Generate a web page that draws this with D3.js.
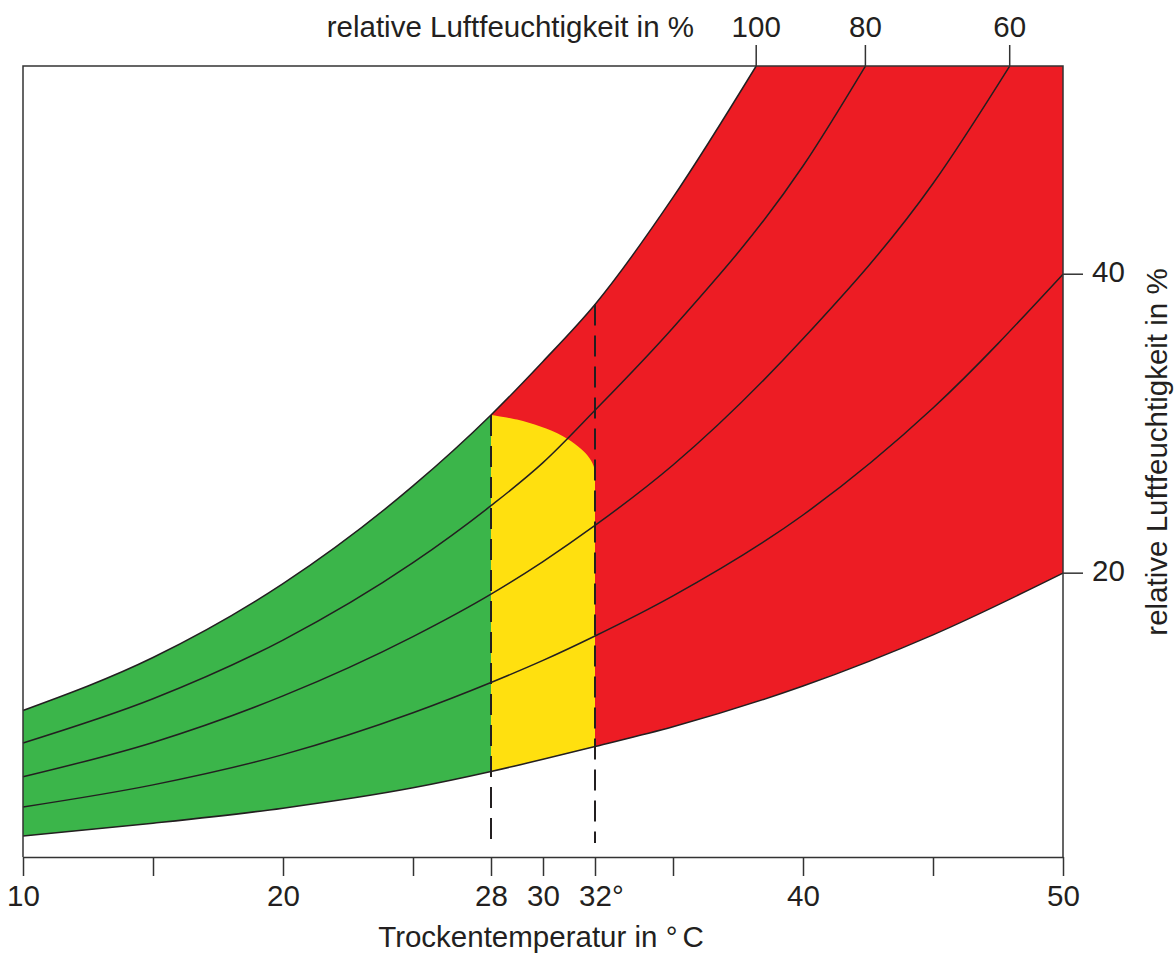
<!DOCTYPE html>
<html lang="de">
<head>
<meta charset="UTF-8">
<title>Behaglichkeitsfeld</title>
<script src="https://cdn.jsdelivr.net/npm/d3@7"></script>
<style>
    body { margin: 0; background: #fff; }
    text { font-family: "Liberation Sans", Arial, sans-serif; fill: #231f20; }
</style>
</head>
<body>
<script>

    // Kurven konstanter relativer Feuchte: [Temperatur °C, Dampfgehalt (Hilfsachse, nicht beschriftet)]
    var rh100 = [[10, 12.6], [15, 17.15], [20, 23.5], [25, 31.9], [28, 38.0], [30, 42.6], [32, 47.5], [35, 56.7], [38.2, 68]];
    var rh80  = [[10, 9.8], [15, 13.6], [20, 18.65], [25, 25.3], [28, 30.2], [30, 33.9], [32, 38.4], [35, 45.5], [40, 59.4], [42.4, 68]];
    var rh60  = [[10, 6.9], [15, 9.85], [20, 13.85], [25, 18.95], [28, 22.6], [30, 25.4], [32, 28.5], [35, 33.7], [40, 44.55], [45, 57.9], [47.95, 68]];
    var rh40  = [[10, 4.3], [15, 6.2], [20, 8.8], [25, 12.4], [28, 15.0], [30, 16.9], [32, 19.0], [35, 22.45], [40, 29.4], [45, 38.6], [50, 50.1]];
    var rh20  = [[10, 1.8], [15, 2.9], [20, 4.2], [25, 5.95], [28, 7.35], [30, 8.4], [32, 9.5], [35, 11.2], [40, 14.7], [45, 19.1], [50, 24.4]];

    var rhLevels = [100, 80, 60, 40, 20];
    var rhCurves = [rh100, rh80, rh60, rh40, rh20];
    var topLabeled = [100, 80, 60];     // enden oben
    var rightLabeled = [40, 20];        // enden rechts

    // obere Grenze des gelben Feldes zwischen 28 und 32 °C
    var yellowArc = [[28, 38.0], [29.0, 37.6], [29.9, 37.0], [30.75, 36.2], [31.35, 35.3], [31.72, 34.5], [31.95, 33.6], [32, 32.5]];

    var zoneLimits = [28, 32];
    var tempTicks = [10, 15, 20, 25, 28, 30, 32, 35, 40, 45, 50];
    var tempLabels = [10, 20, 28, 30, 32, 40, 50];

    var colors = {green: "#3bb54a", yellow: "#ffe00f", red: "#ed1c24", ink: "#231f20"};
    var fontSize = 29.5;

    var width = 1174, height = 954;
    var plot = {left: 23, right: 1063, top: 66, bottom: 857};

    var svg = d3.select("body").append("svg")
            .attr("width", width)
            .attr("height", height);

    var x = d3.scaleLinear().domain([10, 50]).range([plot.left, plot.right]);
    var y = d3.scaleLinear().domain([0, 68]).range([plot.bottom, plot.top]);
    var yMax = y.domain()[1];

    var line = d3.line()
            .x(function (d) { return x(d[0]); })
            .y(function (d) { return y(d[1]); })
            .curve(d3.curveMonotoneX);

    //Clip: unter der 100%-Kurve und über der 20%-Kurve
    var defs = svg.append("defs");
    var below100 = defs.append("clipPath").attr("id", "below100");
    below100.append("path")
            .attr("d", d3.area()
                    .x(function (d) { return x(d[0]); })
                    .y0(y(0))
                    .y1(function (d) { return y(d[1]); })
                    .curve(d3.curveMonotoneX)(rh100));
    below100.append("rect")
            .attr("x", x(rh100[rh100.length - 1][0]))
            .attr("y", y(yMax))
            .attr("width", x(50) - x(rh100[rh100.length - 1][0]))
            .attr("height", y(0) - y(yMax));

    defs.append("clipPath").attr("id", "above20")
            .append("path")
            .attr("d", d3.area()
                    .x(function (d) { return x(d[0]); })
                    .y0(y(yMax))
                    .y1(function (d) { return y(d[1]); })
                    .curve(d3.curveMonotoneX)(rh20));

    var fills = svg.append("g").attr("clip-path", "url(#below100)")
            .append("g").attr("clip-path", "url(#above20)");

    fills.append("rect")
            .attr("x", x(10)).attr("y", y(yMax))
            .attr("width", x(zoneLimits[0]) - x(10))
            .attr("height", y(0) - y(yMax))
            .attr("fill", colors.green);

    fills.append("rect")
            .attr("x", x(zoneLimits[0])).attr("y", y(yMax))
            .attr("width", x(50) - x(zoneLimits[0]))
            .attr("height", y(0) - y(yMax))
            .attr("fill", colors.red);

    var arcLine = d3.line()
            .x(function (d) { return x(d[0]); })
            .y(function (d) { return y(d[1]); })
            .curve(d3.curveCatmullRom);

    fills.append("path")
            .attr("d", arcLine(yellowArc)
                    + "L" + x(zoneLimits[1]) + "," + y(0)
                    + "L" + x(zoneLimits[0]) + "," + y(0) + "Z")
            .attr("fill", colors.yellow);

    //Feuchtekurven
    svg.append("g")
            .selectAll("path")
            .data(rhCurves)
            .enter()
            .append("path")
            .attr("d", line)
            .attr("fill", "none")
            .attr("stroke", colors.ink)
            .attr("stroke-width", 1.5);

    //gestrichelte Grenzen bei 28 und 32 °C
    svg.append("g")
            .selectAll("line")
            .data(zoneLimits)
            .enter()
            .append("line")
            .attr("x1", function (d) { return x(d); })
            .attr("x2", function (d) { return x(d); })
            .attr("y1", function (d) {
                return y(rh100.find(function (p) { return p[0] === d; })[1]);
            })
            .attr("y2", plot.bottom - 14)
            .attr("stroke", colors.ink)
            .attr("stroke-width", 2)
            .attr("stroke-dasharray", "21,10");

    //Rahmen
    svg.append("path")
            .attr("d", "M" + x(10) + "," + y(0) + "V" + y(yMax) + "H" + x(50) + "V" + y(0))
            .attr("fill", "none")
            .attr("stroke", "#333")
            .attr("stroke-width", 1.5);

    //x-Achse
    var xAxis = d3.axisBottom(x)
            .tickValues(tempTicks)
            .tickSize(19)
            .tickSizeOuter(0)
            .tickPadding(9)
            .tickFormat(function (d) {
                return tempLabels.indexOf(d) >= 0 ? String(d) : "";
            });

    var xAxisGroup = svg.append("g")
            .attr("class", "xaxis")
            .attr("transform", "translate(0," + y(0) + ")")
            .call(xAxis);

    xAxisGroup.select(".domain").attr("stroke", "#333").attr("stroke-width", 1.5);
    xAxisGroup.selectAll(".tick line").attr("stroke", "#333").attr("stroke-width", 1.5);
    xAxisGroup.selectAll(".tick text")
            .attr("font-family", "Liberation Sans, Arial, sans-serif")
            .attr("font-size", fontSize)
            .attr("fill", colors.ink);

    //32° : Gradzeichen hinter der zentrierten Zahl
    xAxisGroup.selectAll(".tick")
            .filter(function (d) { return d === 32; })
            .select("text")
            .attr("text-anchor", "start")
            .each(function () {
                var t = d3.select(this);
                var w = this.getComputedTextLength();
                t.attr("x", -w / 2);
                t.append("tspan").text("°");
            });

    var xTitle = svg.append("text")
            .attr("x", (plot.left + plot.right) / 2 - 2)
            .attr("y", 947)
            .attr("text-anchor", "middle")
            .attr("font-size", fontSize);
    xTitle.append("tspan").text("Trockentemperatur in °");
    xTitle.append("tspan").attr("dx", 5).text("C");

    //Beschriftung oben (100, 80, 60)
    var topEnds = rhCurves.filter(function (c, i) { return topLabeled.indexOf(rhLevels[i]) >= 0; });
    var topGroup = svg.append("g")
            .selectAll("g")
            .data(topEnds)
            .enter()
            .append("g")
            .attr("transform", function (d) {
                return "translate(" + x(d[d.length - 1][0]) + "," + y(yMax) + ")";
            });
    topGroup.append("line")
            .attr("y2", -21)
            .attr("stroke", "#333")
            .attr("stroke-width", 1.5);
    topGroup.append("text")
            .attr("y", -29)
            .attr("text-anchor", "middle")
            .attr("font-size", fontSize)
            .text(function (d, i) { return topLabeled[i]; });

    svg.append("text")
            .attr("x", 694)
            .attr("y", 37)
            .attr("text-anchor", "end")
            .attr("font-size", fontSize)
            .text("relative Luftfeuchtigkeit in %");

    //Beschriftung rechts (40, 20)
    var rightEnds = rhCurves.filter(function (c, i) { return rightLabeled.indexOf(rhLevels[i]) >= 0; });
    var rightGroup = svg.append("g")
            .selectAll("g")
            .data(rightEnds)
            .enter()
            .append("g")
            .attr("transform", function (d) {
                return "translate(" + x(50) + "," + y(d[d.length - 1][1]) + ")";
            });
    rightGroup.append("line")
            .attr("x2", 20)
            .attr("stroke", "#333")
            .attr("stroke-width", 1.5);
    rightGroup.append("text")
            .attr("x", 29)
            .attr("y", 8)
            .attr("font-size", fontSize)
            .text(function (d, i) { return rightLabeled[i]; });

    svg.append("text")
            .attr("transform", "translate(1167," + 452 + ") rotate(-90)")
            .attr("text-anchor", "middle")
            .attr("font-size", fontSize)
            .text("relative Luftfeuchtigkeit in %");

</script>
</body>
</html>
